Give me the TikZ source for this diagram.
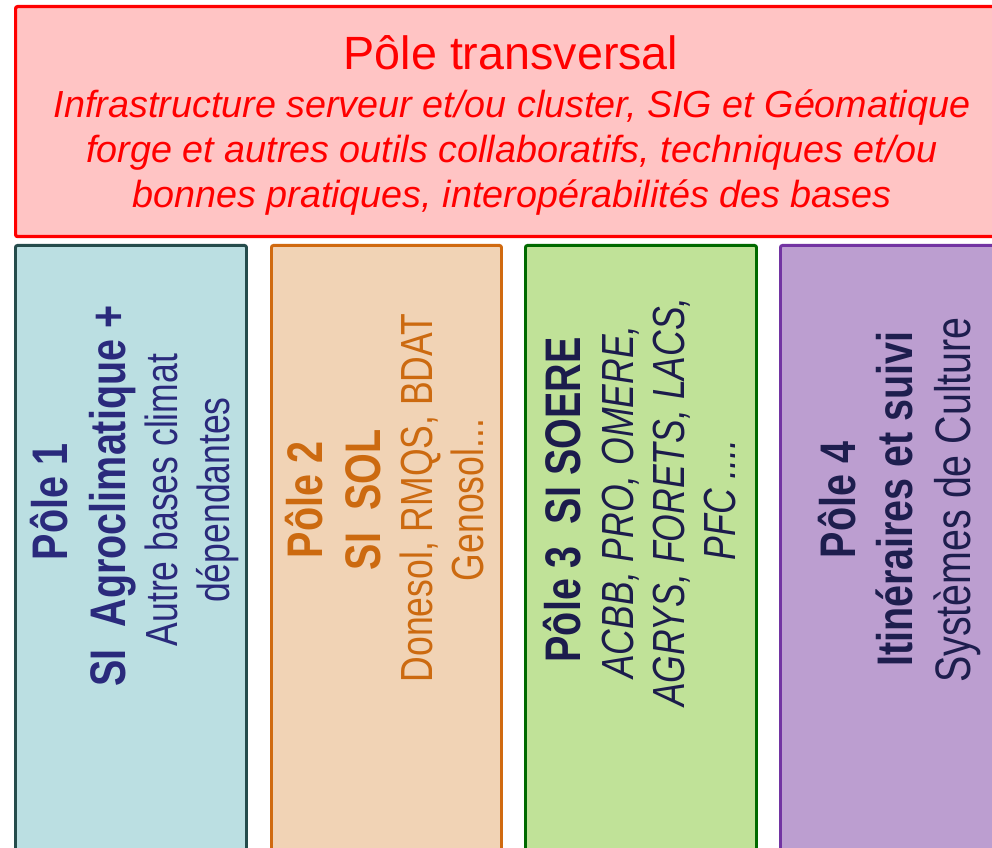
\documentclass[tikz,border=0pt]{standalone}
\usepackage{fontspec}
\setmainfont{Liberation Sans}
\newfontfamily\condfont[FakeStretch=0.79]{Liberation Sans}
\definecolor{topfill}{HTML}{FFC4C4}
\definecolor{topred}{HTML}{FF0000}
\definecolor{cAfill}{HTML}{BBDFE2}
\definecolor{cAline}{HTML}{254C4C}
\definecolor{cAtxt}{HTML}{2A2A7C}
\definecolor{cBfill}{HTML}{F1D3B5}
\definecolor{cBline}{HTML}{D06A10}
\definecolor{cBtxt}{HTML}{CC6A10}
\definecolor{cCfill}{HTML}{C0E298}
\definecolor{cCline}{HTML}{006A00}
\definecolor{cCtxt}{HTML}{1C1C4C}
\definecolor{cDfill}{HTML}{BC9ED0}
\definecolor{cDline}{HTML}{7234A2}
\definecolor{cDtxt}{HTML}{1E1E4E}
\tikzset{
  panel/.style={draw, line width=2.2pt, rounded corners=1.5pt, anchor=north west,
    inner sep=0pt, minimum width=#1*0.75pt, minimum height=656*0.75pt},
  vline/.style={rotate=90, anchor=base, inner sep=0pt},
  vbold/.style={vline, font=\condfont\bfseries\fontsize{37.5}{40}\selectfont},
  vreg/.style={vline, font=\condfont\fontsize{33.75}{38}\selectfont},
  vit/.style={vline, font=\condfont\itshape\fontsize{33.75}{38}\selectfont},
  vregD/.style={vline, font=\condfont\fontsize{37.4}{40}\selectfont},
  hit/.style={anchor=base, inner sep=0pt, text=topred, font=\itshape\fontsize{28.3}{34}\selectfont},
}
\begin{document}
\begin{tikzpicture}[x=0.75pt,y=-0.75pt]
\useasboundingbox (0,0) rectangle (992,848);
\clip (0,0) rectangle (992,848);
% top box
\node[draw=topred, fill=topfill, line width=2.4pt, rounded corners=1.5pt, anchor=north west,
  inner sep=0pt, minimum width=996*0.75pt, minimum height=230*0.75pt] (top) at (14,5) {};
\node[anchor=base, inner sep=0pt, text=topred, font=\fontsize{35}{40}\selectfont] (tt) at (511,70) {Pôle transversal};
\node[hit] (t1) at (512,118) {Infrastructure serveur et/ou cluster, SIG et Géomatique};
\node[hit] (t2) at (512,163) {forge et autres outils collaboratifs, techniques et/ou};
\node[hit] (t3) at (512,208) {bonnes pratiques, interopérabilités des bases};
% columns
\node[panel=231, draw=cAline, fill=cAfill] (c1) at (14,244) {};
\node[panel=230, draw=cBline, fill=cBfill] (c2) at (270,244) {};
\node[panel=231, draw=cCline, fill=cCfill] (c3) at (524,244) {};
\node[panel=231, draw=cDline, fill=cDfill] (c4) at (779,244) {};
% column 1
\node[vbold, text=cAtxt] (a1) at (67,502) {Pôle 1};
\node[vbold, text=cAtxt] (a2) at (125,496) {SI\ \ Agroclimatique +};
\node[vreg, text=cAtxt] (a3) at (177,500) {Autre bases climat};
\node[vreg, text=cAtxt] (a4) at (229,500) {dépendantes};
% column 2
\node[vbold, text=cBtxt] (b1) at (322,500) {Pôle 2};
\node[vbold, text=cBtxt] (b2) at (380,500) {SI\ \ SOL};
\node[vreg, text=cBtxt] (b3) at (432,498) {Donesol, RMQS, BDAT};
\node[vreg, text=cBtxt] (b4) at (483,500) {Genosol...};
% column 3
\node[vbold, text=cCtxt] (d1) at (580,500) {Pôle 3\ \ SI SOERE};
\node[vit, text=cCtxt] (d2) at (633,502) {ACBB, PRO, OMERE,};
\node[vit, text=cCtxt] (d3) at (684,502) {AGRYS, FORETS, LACS,};
\node[vit, text=cCtxt] (d4) at (735,500) {PFC ....};
% column 4
\node[vbold, text=cDtxt] (e1) at (855,500) {Pôle 4};
\node[vbold, text=cDtxt] (e2) at (912,499) {Itinéraires et suivi};
\node[vregD, text=cDtxt] (e3) at (970,500) {Systèmes de Culture};
\end{tikzpicture}
\end{document}
